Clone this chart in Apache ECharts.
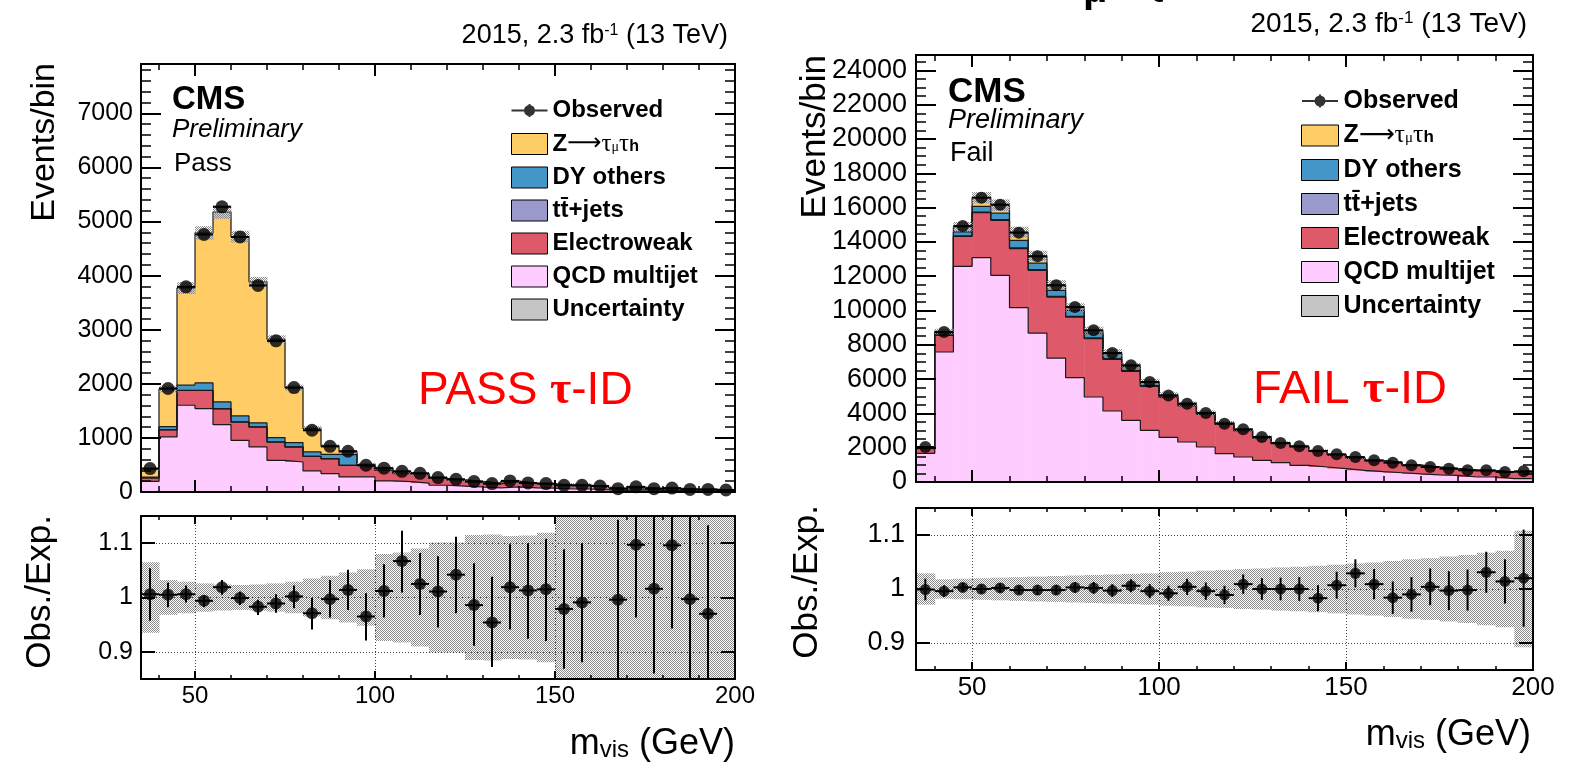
<!DOCTYPE html>
<html>
<head>
<meta charset="utf-8">
<script src="https://cdn.jsdelivr.net/npm/echarts@6.0.0/dist/echarts.min.js"></script>
<style>
html, body { margin: 0; padding: 0; background: #fff; }
#chart { width: 1569px; height: 766px; }
</style>
</head>
<body>
<div id="chart"></div>
<script>
// bins of m_vis (GeV), 5 GeV wide
const binLow = [35,40,45,50,55,60,65,70,75,80,85,90,95,100,105,110,115,120,125,130,135,140,145,150,155,160,165,170,175,180,185,190,195];
const binWidth = 5;

// tick positions / labels
const xMajorTicks = [50, 100, 150];
const xMinorTicks = [40, 60, 70, 80, 90, 110, 120, 130, 140, 160, 170, 180, 190];
const xTickLabels = [50, 100, 150, 200];
const ratioTicks = [0.9, 1, 1.1];

// PASS tau-ID
const qcdPass = [197,1018,1604,1542,1246,956,833,586,555,389,340,278,278,204,190,165,125,110,92,75,95,75,70,55,55,40,28,40,28,30,21,21,11];
const ewkPass = [62,130,272,334,292,335,366,336,275,268,274,213,190,197,150,155,125,104,92,77,92,80,75,64,62,44,30,42,29,32,23,24,12];
const ttPass  = [3,6,5,5,4,4,4,3,3,3,3,3,3,3,3,3,3,3,3,3,3,3,3,3,3,2,2,2,2,2,1,1,1];
const dyPass  = [13,55,93,136,123,111,74,81,80,80,80,197,30,22,10,8,6,5,5,4,6,4,3,3,3,2,1,2,1,1,1,1,0.5];
const ztPass  = [150,694,1796,2773,3509,3314,2607,1819,1014,435,151,52,11,9,6,6,4,4,3,3,4,3,2,2,2,2,1,1,1,1,1,1,0.5];
const obsPass = [433,1913,3792,4761,5272,4715,3818,2794,1931,1141,845,753,494,440,383,345,266,235,192,155,205,167,155,124,124,111,62,95,62,72,47,47,37];
const ratioPass   = [1.006,1.005,1.006,0.994,1.019,0.999,0.983,0.989,1.002,0.971,0.997,1.014,0.965,1.012,1.067,1.025,1.011,1.042,0.986,0.954,1.019,1.013,1.015,0.979,0.991,null,0.996,1.097,1.016,1.096,0.997,0.970,null];
const ratioPassLo = [0.957,0.982,0.991,0.982,1.005,0.986,0.968,0.972,0.980,0.941,0.963,0.977,0.921,0.963,1.009,0.968,0.945,0.971,0.911,0.872,0.941,0.924,0.920,0.869,0.881,null,0.80,0.963,0.86,0.943,0.80,0.80,null];
const ratioPassHi = [1.054,1.027,1.022,1.003,1.032,1.011,0.996,1.006,1.022,0.999,1.032,1.051,1.008,1.061,1.123,1.082,1.076,1.112,1.063,1.038,1.098,1.100,1.108,1.089,1.100,null,1.143,1.20,1.20,1.20,1.20,1.133,null];
const uncPass = [0.065,0.032,0.029,0.026,0.024,0.023,0.024,0.026,0.029,0.035,0.040,0.046,0.052,0.080,0.083,0.090,0.101,0.101,0.115,0.116,0.113,0.114,0.119,0.30,0.30,0.30,0.30,0.30,0.30,0.30,0.30,0.30,0.30];

// FAIL tau-ID
const qcdFail = [1672,7580,12575,13083,12050,10168,8687,7229,6087,4956,4139,3597,3014,2600,2332,2041,1656,1458,1263,1128,972,875,778,680,600,540,470,420,389,292,292,194,194];
const ewkFail = [272,972,1749,2623,3207,3439,3655,3557,3533,3404,3014,2857,2565,2330,2100,1900,1700,1515,1300,1096,1064,926,793,710,628,586,494,436,376,375,355,370,405];
const ttFail  = [10,20,30,40,40,40,40,40,40,40,40,40,40,38,36,34,32,30,28,26,24,22,20,18,16,14,12,11,10,9,8,7,7];
const dyFail  = [40,80,230,330,386,444,386,350,350,287,293,249,224,105,77,60,50,38,30,22,17,14,10,8,7,6,5,4,4,4,4,3,3];
const ztFail  = [49,129,296,504,457,479,416,315,162,139,58,20,10,8,6,4,3,3,3,2,2,1,1,1,1,1,1,1,1,1,1,1,1];
const obsFail = [2041,8746,14925,16580,16172,14540,13158,11468,10203,8844,7521,6804,5830,5040,4569,4023,3403,3071,2624,2274,2079,1807,1613,1458,1263,1129,972,875,778,680,680,583,622];
const ratioFail    = [0.999,0.996,1.003,1.000,1.002,0.998,0.998,0.998,1.003,1.002,0.997,1.006,0.996,0.992,1.004,0.996,0.989,1.009,1.000,1.000,1.000,0.983,1.007,1.029,1.009,0.984,0.990,1.004,0.997,0.998,1.031,1.014,1.020];
const ratioFailErr = [0.020,0.011,0.008,0.008,0.008,0.008,0.009,0.009,0.010,0.011,0.012,0.012,0.013,0.014,0.015,0.016,0.017,0.018,0.020,0.021,0.022,0.024,0.025,0.026,0.028,0.030,0.032,0.034,0.036,0.038,0.038,0.041,0.090];
const uncFail = [0.029,0.018,0.019,0.020,0.021,0.022,0.023,0.024,0.025,0.026,0.027,0.028,0.029,0.031,0.032,0.034,0.035,0.037,0.038,0.040,0.041,0.043,0.045,0.047,0.049,0.052,0.055,0.057,0.060,0.063,0.067,0.071,0.108];

const FONT = 'Liberation Sans';
const SERIF = 'Liberation Serif';
const colors = { qcd: '#FFCCFF', ewk: '#DE5A6A', tt: '#9999CC', dy: '#4496C8', zt: '#FFCC66' };

// grey dotted fill like the ROOT uncertainty hatch
const patCanvas = document.createElement('canvas');
patCanvas.width = 2; patCanvas.height = 2;
const pctx = patCanvas.getContext('2d');
pctx.fillStyle = '#8a8a8a';
pctx.fillRect(0, 0, 1, 1);
pctx.fillRect(1, 1, 1, 1);
const hatch = { image: patCanvas, repeat: 'repeat' };

const F = (w, s, fam) => w + ' ' + s + 'px "' + (fam || FONT) + '"';

function boxItem(fill) {
    return function (params, api) {
        const cs = params.coordSys;
        const a = api.coord([api.value(0), api.value(2)]);
        const b = api.coord([api.value(1), api.value(3)]);
        const yTop = Math.max(Math.min(a[1], b[1]), cs.y);
        const yBot = Math.min(Math.max(a[1], b[1]), cs.y + cs.height);
        if (yBot <= yTop) return null;
        return {
            type: 'rect',
            shape: { x: a[0], y: yTop, width: b[0] - a[0] + 0.5, height: yBot - yTop },
            style: { fill: fill }
        };
    };
}

function errItem(params, api) {
    const cs = params.coordSys;
    const l = api.coord([api.value(0), api.value(2)]);
    const r = api.coord([api.value(1), api.value(2)]);
    const lo = api.coord([0, api.value(3)])[1];
    const hi = api.coord([0, api.value(4)])[1];
    const xm = (l[0] + r[0]) / 2;
    const st = { stroke: '#000', lineWidth: 2 };
    return {
        type: 'group',
        children: [
            { type: 'line', shape: { x1: l[0], y1: l[1], x2: r[0], y2: r[1] }, style: st },
            { type: 'line', shape: { x1: xm, y1: Math.min(lo, cs.y + cs.height), x2: xm, y2: Math.max(hi, cs.y) }, style: st }
        ]
    };
}

function hbarItem(params, api) {
    const l = api.coord([api.value(0), api.value(2)]);
    const r = api.coord([api.value(1), api.value(2)]);
    return { type: 'line', shape: { x1: l[0], y1: l[1], x2: r[0], y2: r[1] }, style: { stroke: '#000', lineWidth: 2 } };
}

function panelSeries(p, k, dot) {
    const xm = 8 * k, ym = 4 * k, xr = 8 * k + 4, yr = 4 * k + 2;
    const layers = [p.qcd, p.ewk, p.tt, p.dy, p.zt];
    const names = ['QCD', 'EW', 'tt', 'DY', 'Z'];
    const cols = [colors.qcd, colors.ewk, colors.tt, colors.dy, colors.zt];
    const tops = [];
    let run = binLow.map(() => 0);
    layers.forEach(l => { run = run.map((v, i) => v + l[i]); tops.push(run); });
    const total = tops[tops.length - 1];
    const out = [];

    layers.forEach((l, j) => {
        const base = j ? tops[j - 1] : binLow.map(() => 0);
        out.push({
            type: 'custom', name: names[j], xAxisIndex: xm, yAxisIndex: ym, z: 2, silent: true,
            itemStyle: { color: cols[j] },
            renderItem: boxItem(cols[j]),
            encode: { x: [0, 1], y: [2, 3] },
            data: binLow.map((x, i) => [x, x + binWidth, base[i], tops[j][i]])
        });
    });
    tops.forEach((t, j) => {
        out.push({
            type: 'line', name: '_edge' + j, xAxisIndex: xm, yAxisIndex: ym, z: 3, silent: true,
            step: 'end', symbol: 'none', showSymbol: false,
            lineStyle: { color: '#1a1a1a', width: 1.2 },
            data: binLow.map((x, i) => [x, t[i]]).concat([[binLow[binLow.length - 1] + binWidth, t[t.length - 1]]])
        });
    });
    out.push({
        type: 'custom', name: 'Unc', xAxisIndex: xm, yAxisIndex: ym, z: 4, silent: true,
        itemStyle: { color: hatch },
        renderItem: boxItem(hatch),
        encode: { x: [0, 1], y: [2, 3] },
        data: binLow.map((x, i) => [x, x + binWidth, total[i] * (1 - p.unc[i]), total[i] * (1 + p.unc[i])])
    });
    out.push({
        type: 'custom', name: '_obsbar', xAxisIndex: xm, yAxisIndex: ym, z: 5, silent: true,
        renderItem: hbarItem,
        encode: { x: [0, 1], y: 2 },
        data: binLow.map((x, i) => [x, x + binWidth, p.obs[i]])
    });
    out.push({
        type: 'scatter', name: 'Observed', xAxisIndex: xm, yAxisIndex: ym, z: 6, silent: true,
        symbol: 'circle', symbolSize: dot, itemStyle: { color: '#000' },
        data: binLow.map((x, i) => [x + binWidth / 2, p.obs[i]])
    });

    // ratio panel
    out.push({
        type: 'custom', name: '_runc', xAxisIndex: xr, yAxisIndex: yr, z: 2, silent: true,
        renderItem: boxItem(hatch),
        encode: { x: [0, 1], y: [2, 3] },
        data: binLow.map((x, i) => [x, x + binWidth, 1 - p.unc[i], 1 + p.unc[i]])
    });
    const idx = binLow.map((x, i) => i).filter(i => p.ratio[i] !== null);
    out.push({
        type: 'custom', name: '_rerr', xAxisIndex: xr, yAxisIndex: yr, z: 5, silent: true,
        renderItem: errItem,
        encode: { x: [0, 1], y: [2, 3, 4] },
        data: idx.map(i => [binLow[i], binLow[i] + binWidth, p.ratio[i], p.lo[i], p.hi[i]])
    });
    out.push({
        type: 'scatter', name: '_rpts', xAxisIndex: xr, yAxisIndex: yr, z: 6, silent: true,
        symbol: 'circle', symbolSize: dot - 1, itemStyle: { color: '#000' },
        data: idx.map(i => [binLow[i] + binWidth / 2, p.ratio[i]]),
        markLine: {
            silent: true, symbol: 'none', animation: false, label: { show: false },
            lineStyle: { type: [1, 2], color: '#444', width: 1 },
            data: [{ xAxis: 50 }, { xAxis: 100 }, { xAxis: 150 }, { yAxis: 0.9 }, { yAxis: 1 }, { yAxis: 1.1 }]
        }
    });
    return out;
}

function xAxes(grid, o) {
    const list = [];
    ['bottom', 'top'].forEach(pos => {
        list.push({
            type: 'value', gridIndex: grid, position: pos, min: 35, max: 200, z: 10,
            splitLine: { show: false },
            axisLine: { show: true, onZero: false, lineStyle: { color: '#000', width: 2 } },
            axisTick: { show: true, inside: true, length: o.major, customValues: xMajorTicks, lineStyle: { color: '#000', width: 2 } },
            axisLabel: (pos === 'bottom' && o.fontSize) ? {
                show: true, customValues: xTickLabels, margin: o.margin, color: '#000',
                fontFamily: FONT, fontSize: o.fontSize, formatter: v => String(v)
            } : { show: false }
        });
        list.push({
            type: 'value', gridIndex: grid, position: pos, min: 35, max: 200, z: 10,
            splitLine: { show: false },
            axisLine: { show: false, onZero: false },
            axisTick: { show: true, inside: true, length: o.minor, customValues: xMinorTicks, lineStyle: { color: '#000', width: 1.5 } },
            axisLabel: { show: false }
        });
    });
    return list;
}

function yAxes(grid, o) {
    return ['left', 'right'].map(pos => {
        const ax = {
            type: 'value', gridIndex: grid, position: pos, min: o.min, max: o.max, z: 10,
            splitLine: { show: false },
            axisLine: { show: true, onZero: false, lineStyle: { color: '#000', width: 2 } },
            axisTick: { show: true, inside: true, length: o.major, lineStyle: { color: '#000', width: 2 } },
            minorTick: o.minor ? { show: true, splitNumber: o.minor, length: o.minorLen, lineStyle: { color: '#000', width: 1.5 } } : { show: false },
            axisLabel: pos === 'left' ? {
                show: true, margin: o.margin, color: '#000', fontFamily: FONT, fontSize: o.fontSize,
                showMaxLabel: o.interval ? false : null, formatter: v => String(v)
            } : { show: false }
        };
        if (o.interval) ax.interval = o.interval;
        if (o.ticks) {
            ax.axisTick.customValues = o.ticks;
            if (pos === 'left') ax.axisLabel.customValues = o.ticks;
        }
        return ax;
    });
}

const legendNames = ['Observed', 'Z', 'DY', 'tt', 'EW', 'QCD', 'Unc'];
const legendLabels = {
    Observed: '{b|Observed}',
    Z: '{b|Z}{a|\u27f6}{g|\u03c4}{s|\u03bc}{g|\u03c4}{sb|h}',
    DY: '{b|DY others}',
    tt: '{b|tt\u0304+jets}',
    EW: '{b|Electroweak}',
    QCD: '{b|QCD multijet}',
    Unc: '{b|Uncertainty}'
};
const obsIcon = 'path://M0,0L0.2,0L0,0.2Z M36,21L35.8,21L36,20.8Z M0,9.5L36,9.5L36,11.5L0,11.5Z M17,4L19,4L19,17L17,17Z M23.5,10.5A5.5,5.5,0,1,1,12.5,10.5A5.5,5.5,0,1,1,23.5,10.5Z';

function legendAt(left, top, fs, w) {
    return {
        left: left, top: top, orient: 'vertical', padding: 0,
        itemWidth: w, itemHeight: 21, itemGap: 9, selectedMode: false,
        itemStyle: { borderColor: '#000', borderWidth: 1 },
        textStyle: {
            fontFamily: FONT, fontSize: fs, fontWeight: 'bold', color: '#000', lineHeight: 21,
            rich: {
                b: { fontFamily: FONT, fontWeight: 'bold', fontSize: fs, lineHeight: 21, color: '#000' },
                a: { fontFamily: 'DejaVu Sans', fontWeight: 'normal', fontSize: fs, lineHeight: 21, color: '#000' },
                g: { fontFamily: SERIF, fontWeight: 'normal', fontSize: Math.round(fs * 1.05), lineHeight: 21, color: '#000' },
                s: { fontFamily: SERIF, fontWeight: 'normal', fontSize: Math.round(fs * 0.6), lineHeight: 3, verticalAlign: 'bottom', color: '#000' },
                sb: { fontFamily: FONT, fontWeight: 'bold', fontSize: Math.round(fs * 0.66), lineHeight: 3, verticalAlign: 'bottom', color: '#000' }
            }
        },
        formatter: n => legendLabels[n],
        data: legendNames.map(n => n === 'Observed'
            ? { name: n, icon: obsIcon, itemStyle: { color: '#000', borderWidth: 0 } }
            : { name: n, icon: 'rect' })
    };
}

function txt(x, y, text, font, align, extra) {
    return Object.assign({
        type: 'text', x: x, y: y, silent: true,
        style: { text: text, font: font, fill: '#000', align: align || 'left', verticalAlign: 'middle', textAlign: align || 'left', textVerticalAlign: 'middle' }
    }, extra || {});
}
function richTxt(x, y, text, rich, align, fill) {
    return {
        type: 'text', x: x, y: y, silent: true,
        style: { text: text, rich: rich, fill: fill || '#000', align: align, verticalAlign: 'middle', textAlign: align, textVerticalAlign: 'middle' }
    };
}
function lumiRich(fs) {
    return {
        n: { font: F('normal', fs), fill: '#000', lineHeight: fs },
        p: { font: F('normal', Math.round(fs * 0.6)), fill: '#000', lineHeight: 8, verticalAlign: 'top' }
    };
}
function tauRich(fs) {
    return {
        r: { font: F('normal', fs), fill: '#ff0000', lineHeight: fs },
        t: { font: F('bold', fs, SERIF), fill: '#ff0000', lineHeight: fs }
    };
}
function mvisRich(fs) {
    return {
        m: { font: F('normal', fs), fill: '#000', lineHeight: fs },
        s: { font: F('normal', Math.round(fs * 0.67)), fill: '#000', lineHeight: 6, verticalAlign: 'bottom' }
    };
}
const rot = { rotation: Math.PI / 2 };

const graphics = [
    // left panel
    richTxt(728, 36, '{n|2015, 2.3 fb}{p|-1}{n| (13 TeV)}', lumiRich(27), 'right'),
    txt(172, 100, 'CMS', F('bold', 33)),
    txt(172, 130, 'Preliminary', F('italic', 26)),
    txt(174, 164, 'Pass', F('normal', 26)),
    richTxt(418, 391, '{r|PASS }{t|\u03c4}{r|-ID}', tauRich(46), 'left'),
    txt(45, 63, 'Events/bin', F('normal', 34), 'right', rot),
    txt(40, 515, 'Obs./Exp.', F('normal', 35), 'right', rot),
    richTxt(735, 744, '{m|m}{s|vis}{m| (GeV)}', mvisRich(36), 'right'),
    // right panel
    richTxt(1527, 24, '{n|2015, 2.3 fb}{p|-1}{n| (13 TeV)}', lumiRich(28), 'right'),
    txt(948, 92, 'CMS', F('bold', 35)),
    txt(948, 120, 'Preliminary', F('italic', 27)),
    txt(950, 154, 'Fail', F('normal', 27)),
    richTxt(1253, 390, '{r|FAIL }{t|\u03c4}{r|-ID}', tauRich(47), 'left'),
    txt(815, 55, 'Events/bin', F('normal', 35), 'right', rot),
    txt(807, 505, 'Obs./Exp.', F('normal', 35), 'right', rot),
    richTxt(1531, 735, '{m|m}{s|vis}{m| (GeV)}', mvisRich(36), 'right'),
    {
        type: 'text', x: 1083, y: 11, silent: true,
        style: { text: '\u03bc\u2192\u03c4', font: F('bold', 40), fill: '#000', align: 'left', verticalAlign: 'bottom', textAlign: 'left', textVerticalAlign: 'bottom' }
    }
];

const pass = { qcd: qcdPass, ewk: ewkPass, tt: ttPass, dy: dyPass, zt: ztPass, obs: obsPass, ratio: ratioPass, lo: ratioPassLo, hi: ratioPassHi, unc: uncPass };
const fail = {
    qcd: qcdFail, ewk: ewkFail, tt: ttFail, dy: dyFail, zt: ztFail, obs: obsFail, ratio: ratioFail,
    lo: ratioFail.map((r, i) => r - ratioFailErr[i]), hi: ratioFail.map((r, i) => r + ratioFailErr[i]), unc: uncFail
};

const chart = echarts.init(document.getElementById('chart'));
const option = {
    animation: false,
    backgroundColor: '#fff',
    textStyle: { fontFamily: FONT },
    grid: [
        { left: 141, top: 64, width: 594, height: 428 },
        { left: 141, top: 516, width: 594, height: 163 },
        { left: 916, top: 55, width: 617, height: 427 },
        { left: 916, top: 508, width: 617, height: 162 }
    ],
    xAxis: [].concat(
        xAxes(0, { major: 12, minor: 6 }),
        xAxes(1, { major: 8, minor: 4, fontSize: 24, margin: 5 }),
        xAxes(2, { major: 12, minor: 6 }),
        xAxes(3, { major: 8, minor: 4, fontSize: 26, margin: 5 })
    ),
    yAxis: [].concat(
        yAxes(0, { min: 0, max: 7912, interval: 1000, minor: 5, major: 20, minorLen: 10, fontSize: 25, margin: 8 }),
        yAxes(1, { min: 0.85, max: 1.15, ticks: ratioTicks, major: 14, fontSize: 25, margin: 8 }),
        yAxes(2, { min: 0, max: 24900, interval: 2000, minor: 4, major: 20, minorLen: 10, fontSize: 27, margin: 9 }),
        yAxes(3, { min: 0.85, max: 1.15, ticks: ratioTicks, major: 14, fontSize: 27, margin: 11 })
    ),
    legend: [legendAt(511, 98.5, 24, 36), legendAt(1301, 88.5, 25, 37)],
    graphic: { elements: graphics },
    series: [].concat(panelSeries(pass, 0, 13), panelSeries(fail, 1, 12))
};
chart.setOption(option);
window.addEventListener('resize', () => chart.resize());
</script>
</body>
</html>
